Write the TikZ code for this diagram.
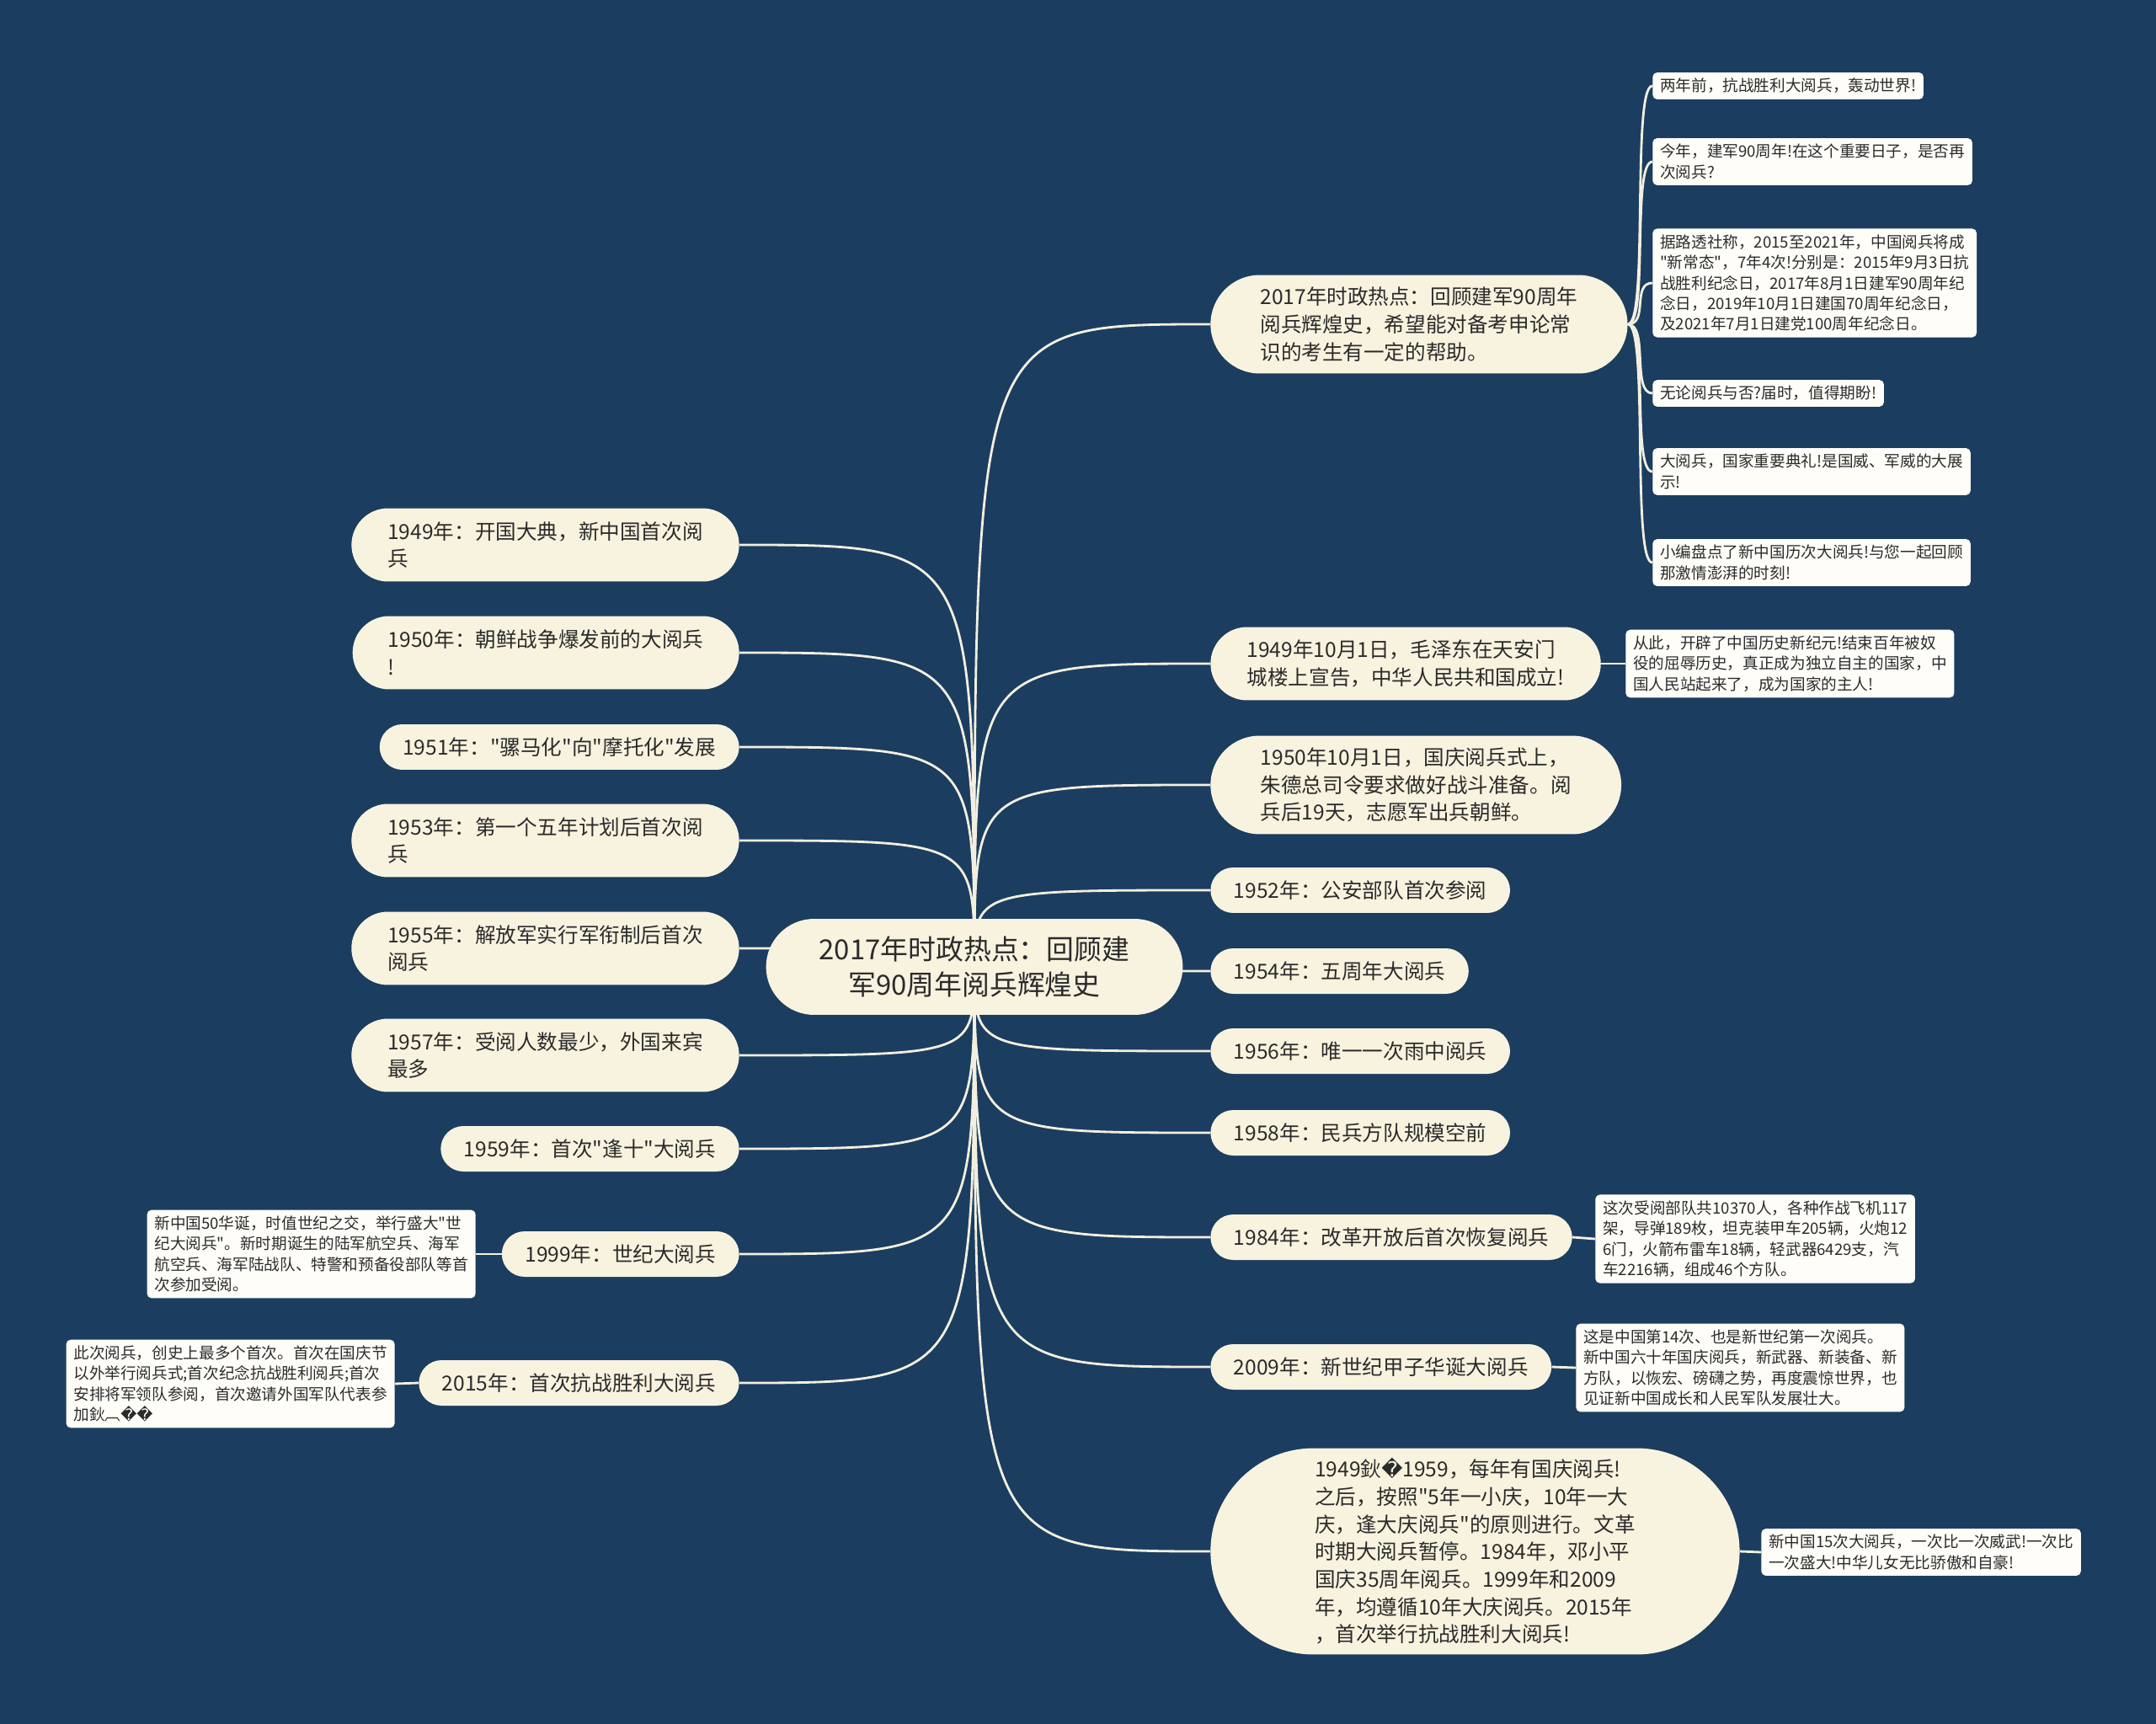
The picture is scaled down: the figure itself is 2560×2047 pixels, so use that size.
\documentclass[tikz,border=0pt]{standalone}
\usepackage{fontspec}
\setmainfont{Noto Sans CJK SC}[Ligatures=TeXOff]
\newfontfamily\symfont{DejaVu Sans}
\usetikzlibrary{shapes.misc}
\definecolor{navy}{HTML}{1B3D5F}
\definecolor{cream}{HTML}{F8F3DF}
\definecolor{paper}{HTML}{FEFDF8}
\definecolor{ink}{HTML}{2B2B2B}
\definecolor{wirecol}{HTML}{F3EFE0}
\pgfdeclarelayer{back}
\pgfdeclarelayer{wires}
\pgfsetlayers{back,wires,main}
\tikzset{
  hubnode/.style={rounded rectangle, fill=cream, text=ink, inner xsep=1cm,
    minimum height=2.28cm, align=center, font=\fontsize{18.7}{24}\selectfont},
  topic/.style={rounded rectangle, fill=cream, text=ink, inner xsep=0.5cm,
    minimum height=1.08cm, align=left, font=\fontsize{14}{18.6}\selectfont},
  twoline/.style={minimum height=1.74cm, inner xsep=0.66cm},
  threeline/.style={minimum height=2.34cm, inner xsep=0.78cm},
  bigtopic/.style={minimum height=4.9cm, inner xsep=1.08cm},
  note/.style={rectangle, rounded corners=3pt, fill=paper, text=ink,
    inner xsep=5pt, inner ysep=4pt, align=left, font=\fontsize{10.6}{13.9}\selectfont},
  wire/.style={draw=wirecol, line width=1.6pt},
}
\begin{document}
\begin{tikzpicture}[x=0.02cm, y=-0.02cm]
\useasboundingbox (0,0) rectangle (2560,2047);
\begin{pgfonlayer}{back}
\fill[navy] (0,0) rectangle (2560,2047);
\end{pgfonlayer}

% centre
\node[hubnode] (hub) at (1157,1148) {2017年时政热点：回顾建\\军90周年阅兵辉煌史};

% right branch
\node[topic, threeline, anchor=west] (r1) at (1437,385) {2017年时政热点：回顾建军90周年\\阅兵辉煌史，希望能对备考申论常\\识的考生有一定的帮助。};
\node[topic, twoline, anchor=west] (r2) at (1437,788) {1949年10月1日，毛泽东在天安门\\城楼上宣告，中华人民共和国成立!};
\node[topic, threeline, anchor=west] (r3) at (1437,932) {1950年10月1日，国庆阅兵式上，\\朱德总司令要求做好战斗准备。阅\\兵后19天，志愿军出兵朝鲜。};
\node[topic, anchor=west] (r4) at (1437,1057) {1952年：公安部队首次参阅};
\node[topic, anchor=west] (r5) at (1437,1153) {1954年：五周年大阅兵};
\node[topic, anchor=west] (r6) at (1437,1248) {1956年：唯一一次雨中阅兵};
\node[topic, anchor=west] (r7) at (1437,1345) {1958年：民兵方队规模空前};
\node[topic, anchor=west] (r8) at (1437,1469) {1984年：改革开放后首次恢复阅兵};
\node[topic, anchor=west] (r9) at (1437,1623) {2009年：新世纪甲子华诞大阅兵};
\node[topic, bigtopic, anchor=west] (r10) at (1437,1842) {1949鈥{\symfont �}1959，每年有国庆阅兵!\\之后，按照"5年一小庆，10年一大\\庆，逢大庆阅兵"的原则进行。文革\\时期大阅兵暂停。1984年，邓小平\\国庆35周年阅兵。1999年和2009\\年，均遵循10年大庆阅兵。2015年\\，首次举行抗战胜利大阅兵!};

% notes of r1
\node[note, anchor=west] (r1a) at (1962,102) {两年前，抗战胜利大阅兵，轰动世界!};
\node[note, anchor=west] (r1b) at (1962,192) {今年，建军90周年!在这个重要日子，是否再\\次阅兵?};
\node[note, anchor=west] (r1c) at (1962,336) {据路透社称，2015至2021年，中国阅兵将成\\"新常态"，7年4次!分别是：2015年9月3日抗\\战胜利纪念日，2017年8月1日建军90周年纪\\念日，2019年10月1日建国70周年纪念日，\\及2021年7月1日建党100周年纪念日。};
\node[note, anchor=west] (r1d) at (1962,467) {无论阅兵与否?届时，值得期盼!};
\node[note, anchor=west] (r1e) at (1962,560) {大阅兵，国家重要典礼!是国威、军威的大展\\示!};
\node[note, anchor=west] (r1f) at (1962,668) {小编盘点了新中国历次大阅兵!与您一起回顾\\那激情澎湃的时刻!};

% other right notes
\node[note, anchor=west] (r2a) at (1930,788) {从此，开辟了中国历史新纪元!结束百年被奴\\役的屈辱历史，真正成为独立自主的国家，中\\国人民站起来了，成为国家的主人!};
\node[note, anchor=west] (r8a) at (1894,1471) {这次受阅部队共10370人，各种作战飞机117\\架，导弹189枚，坦克装甲车205辆，火炮12\\6门，火箭布雷车18辆，轻武器6429支，汽\\车2216辆，组成46个方队。};
\node[note, anchor=west] (r9a) at (1871,1624) {这是中国第14次、也是新世纪第一次阅兵。\\新中国六十年国庆阅兵，新武器、新装备、新\\方队，以恢宏、磅礴之势，再度震惊世界，也\\见证新中国成长和人民军队发展壮大。};
\node[note, anchor=west] (r10a) at (2091,1843) {新中国15次大阅兵，一次比一次威武!一次比\\一次盛大!中华儿女无比骄傲和自豪!};

% left branch
\node[topic, twoline, anchor=east] (l1) at (878,647) {1949年：开国大典，新中国首次阅\\兵};
\node[topic, twoline, anchor=east] (l2) at (878,775) {1950年：朝鲜战争爆发前的大阅兵\\!};
\node[topic, anchor=east] (l3) at (878,887) {1951年："骡马化"向"摩托化"发展};
\node[topic, twoline, anchor=east] (l4) at (878,998) {1953年：第一个五年计划后首次阅\\兵};
\node[topic, twoline, anchor=east] (l5) at (878,1126) {1955年：解放军实行军衔制后首次\\阅兵};
\node[topic, twoline, anchor=east] (l6) at (878,1253) {1957年：受阅人数最少，外国来宾\\最多};
\node[topic, anchor=east] (l7) at (878,1364) {1959年：首次"逢十"大阅兵};
\node[topic, anchor=east] (l8) at (878,1489) {1999年：世纪大阅兵};
\node[topic, anchor=east] (l9) at (878,1642) {2015年：首次抗战胜利大阅兵};

\node[note, anchor=east] (l8a) at (565,1489) {新中国50华诞，时值世纪之交，举行盛大"世\\纪大阅兵"。新时期诞生的陆军航空兵、海军\\航空兵、海军陆战队、特警和预备役部队等首\\次参加受阅。};
\node[note, anchor=east] (l9a) at (469,1643) {此次阅兵，创史上最多个首次。首次在国庆节\\以外举行阅兵式;首次纪念抗战胜利阅兵;首次\\安排将军领队参阅，首次邀请外国军队代表参\\加鈥︹{\symfont ��}};

% connectors
\begin{pgfonlayer}{wires}
\foreach \n in {r1,r2,r3,r4,r5,r6,r7,r8,r9,r10}
  \draw[wire] (hub.center) .. controls (hub.center |- \n.west) .. (\n.west);
\foreach \n in {l1,l2,l3,l4,l5,l6,l7,l8,l9}
  \draw[wire] (hub.center) .. controls (hub.center |- \n.east) .. (\n.east);
\foreach \n in {r1a,r1b,r1c,r1d,r1e,r1f}
  \draw[wire] (r1.east) .. controls +(25,0) and +(-25,0) .. (\n.west);
\draw[wire] (r2.east) -- (r2a.west);
\draw[wire] (r8.east) -- (r8a.west);
\draw[wire] (r9.east) -- (r9a.west);
\draw[wire] (r10.east) -- (r10a.west);
\draw[wire] (l8.west) -- (l8a.east);
\draw[wire] (l9.west) -- (l9a.east);
\end{pgfonlayer}
\end{tikzpicture}
\end{document}
